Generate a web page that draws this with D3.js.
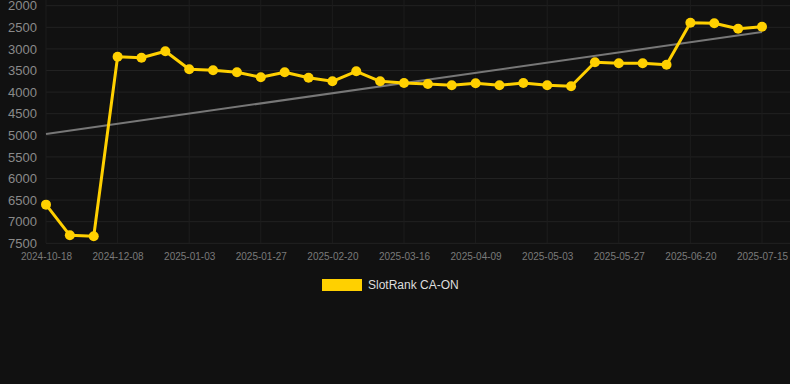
<!DOCTYPE html>
<html>
<head>
<meta charset="utf-8">
<script src="https://cdn.jsdelivr.net/npm/d3@7"></script>
<style>
  html, body { margin: 0; padding: 0; background: #111111; }
  svg { display: block; font-family: "Liberation Sans", Arial, sans-serif; }
</style>
</head>
<body>
<svg id="chart" width="790" height="384"></svg>
<script>
// categories (one per point); every 3rd is labelled on the axis
const dates = [
  "2024-10-18","2024-11-05","2024-11-22","2024-12-08","2024-12-17","2024-12-26",
  "2025-01-03","2025-01-11","2025-01-19","2025-01-27","2025-02-04","2025-02-12",
  "2025-02-20","2025-02-28","2025-03-08","2025-03-16","2025-03-24","2025-04-01",
  "2025-04-09","2025-04-17","2025-04-25","2025-05-03","2025-05-11","2025-05-19",
  "2025-05-27","2025-06-04","2025-06-12","2025-06-20","2025-06-28","2025-07-07",
  "2025-07-15"
];
const rankValues = [
  6605, 7315, 7338, 3181, 3204, 3056, 3472, 3495, 3542, 3657, 3542, 3667,
  3750, 3519, 3750, 3789, 3812, 3843, 3794, 3843, 3789, 3843, 3866, 3310,
  3333, 3333, 3366, 2394, 2407, 2532, 2486
];
const trendValues = [4970, 2609];   // first and last category
const yTicks = [2000, 2500, 3000, 3500, 4000, 4500, 5000, 5500, 6000, 6500, 7000, 7500];
const seriesName = "SlotRank CA-ON";

const svg = d3.select("#chart");
const plot = { left: 46, right: 790, top: 6, bottom: 243 };

const x = d3.scalePoint()
  .domain(dates)
  .range([plot.left, 762]);

const y = d3.scaleLinear()
  .domain([2000, 7500])
  .range([5.7, 243.3]);

// grid
const grid = svg.append("g");
grid.selectAll("line.h")
  .data(yTicks)
  .enter().append("line")
  .attr("x1", plot.left).attr("x2", plot.right)
  .attr("y1", d => y(d)).attr("y2", d => y(d))
  .attr("stroke", "#222").attr("stroke-width", 1);

const labelled = dates.filter((d, i) => i % 3 === 0);
grid.selectAll("line.v")
  .data(labelled)
  .enter().append("line")
  .attr("x1", d => x(d)).attr("x2", d => x(d))
  .attr("y1", plot.top - 6).attr("y2", plot.bottom)
  .attr("stroke", "#1d1d1d").attr("stroke-width", 1);

// y axis labels
const yAxis = d3.axisLeft(y).tickValues(yTicks).tickFormat(d3.format("d"))
  .tickSize(0).tickPadding(9);
svg.append("g")
  .attr("transform", `translate(${plot.left},0)`)
  .call(yAxis)
  .call(g => g.select(".domain").remove())
  .selectAll("text")
  .attr("fill", "#8a8a8a")
  .attr("font-size", "13px")
  .attr("font-family", "Liberation Sans, Arial, sans-serif");

// x axis labels
const xAxis = d3.axisBottom(x).tickValues(labelled).tickSize(0).tickPadding(10);
svg.append("g")
  .attr("transform", `translate(0,${plot.bottom})`)
  .call(xAxis)
  .call(g => g.select(".domain").remove())
  .selectAll("text")
  .attr("fill", "#7a7a7a")
  .attr("font-size", "10px")
  .attr("font-family", "Liberation Sans, Arial, sans-serif");

// trend line
svg.append("line")
  .attr("x1", x(dates[0])).attr("y1", y(trendValues[0]))
  .attr("x2", x(dates[dates.length - 1])).attr("y2", y(trendValues[1]))
  .attr("stroke", "#777").attr("stroke-width", 2);

// main series
const pts = dates.map((d, i) => ({ date: d, v: rankValues[i] }));
const line = d3.line().x(d => x(d.date)).y(d => y(d.v));

svg.append("path")
  .datum(pts)
  .attr("fill", "none")
  .attr("stroke", "#ffd000")
  .attr("stroke-width", 3)
  .attr("stroke-linejoin", "round")
  .attr("d", line);

svg.selectAll("circle.pt")
  .data(pts)
  .enter().append("circle")
  .attr("cx", d => x(d.date))
  .attr("cy", d => y(d.v))
  .attr("r", 5)
  .attr("fill", "#ffd000");

// legend
const legend = svg.append("g").attr("transform", "translate(322,279)");
legend.append("rect")
  .attr("width", 40).attr("height", 12)
  .attr("fill", "#ffd000");
legend.append("text")
  .attr("x", 46).attr("y", 6)
  .attr("dy", "0.35em")
  .attr("fill", "#dddddd")
  .attr("font-size", "12px")
  .text(seriesName);
</script>
</body>
</html>
